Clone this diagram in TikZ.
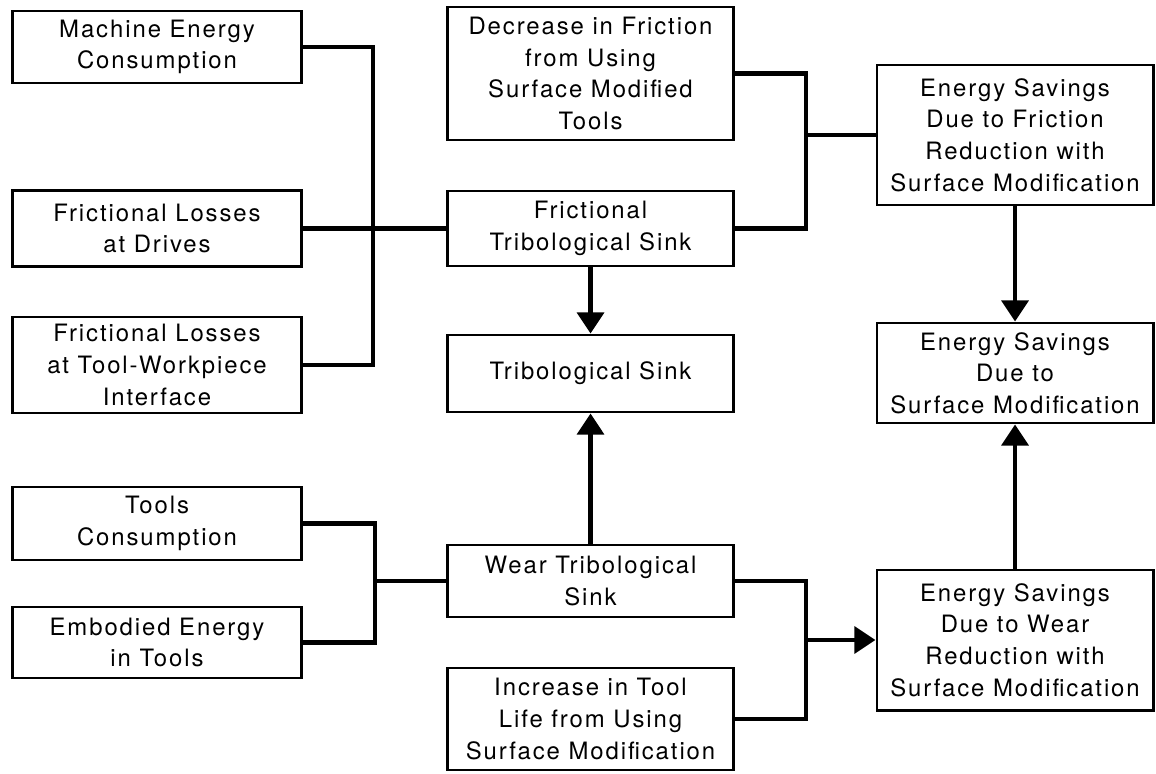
\documentclass[tikz,border=0pt]{standalone}
\usepackage{fontspec}
\setmainfont{TeX Gyre Heros}[LetterSpace=8]
\usepackage{tikz}
\usetikzlibrary{arrows.meta,calc}

\begin{document}
\begin{tikzpicture}[x=0.025cm, y=-0.025cm,
    box/.style={draw, line width=2.1pt, align=center, inner sep=2pt,
        font=\fontsize{17}{22.5}\selectfont},
    link/.style={line width=3.1pt},
    >={Triangle[length=15pt,width=19pt]}]

\useasboundingbox (0,0) rectangle (1156,774);

% Left column: energy inputs
\node[box, minimum width=7.2cm, minimum height=1.8cm] (mach) at (157,47) {Machine Energy\\Consumption};
\node[box, minimum width=7.2cm, minimum height=1.9cm] (drv) at (157,228.5) {Frictional Losses\\at Drives};
\node[box, minimum width=7.2cm, minimum height=2.4cm] (twp) at (157,365) {Frictional Losses\\at Tool-Workpiece\\Interface};
\node[box, minimum width=7.2cm, minimum height=1.825cm] (tcons) at (157,523.5) {Tools\\Consumption};
\node[box, minimum width=7.2cm, minimum height=1.775cm] (emb) at (157,642.5) {Embodied Energy\\in Tools};

% Middle column: sinks
\node[box, minimum width=7.125cm, minimum height=3.325cm] (dfric) at (590.5,73.5) {Decrease in Friction\\from Using\\Surface Modified\\Tools};
\node[box, minimum width=7.125cm, minimum height=1.875cm] (fsink) at (590.5,228.5) {Frictional\\Tribological Sink};
\node[box, minimum width=7.125cm, minimum height=1.925cm] (tsink) at (590.5,373.5) {Tribological Sink};
\node[box, minimum width=7.125cm, minimum height=1.8cm] (wsink) at (590.5,581) {Wear Tribological\\Sink};
\node[box, minimum width=7.125cm, minimum height=2.55cm] (life) at (590.5,719) {Increase in Tool\\Life from Using\\Surface Modification};

% Right column: savings
\node[box, minimum width=6.9cm, minimum height=3.5cm] (esfric) at (1015,135) {Energy Savings\\Due to Friction\\Reduction with\\Surface Modification};
\node[box, minimum width=6.9cm, minimum height=2.5cm] (essurf) at (1015,373) {Energy Savings\\Due to\\Surface Modification};
\node[box, minimum width=6.9cm, minimum height=3.5cm] (eswear) at (1015,640) {Energy Savings\\Due to Wear\\Reduction with\\Surface Modification};

% Junctions of the brackets
\coordinate (jf) at (373,228.5);
\coordinate (jw) at (375,581);
\coordinate (jr) at (806,135);
\coordinate (jt) at (806,640);

% Frictional branch
\draw[link] (mach.east) -| (jf) |- (twp.east);
\draw[link] (drv.east) -- (fsink.west);
\draw[link] (dfric.east) -| (jr) |- (fsink.east);
\draw[link] (jr) -- (esfric.west);

% Wear branch
\draw[link] (tcons.east) -| (jw) |- (emb.east);
\draw[link] (jw) -- (wsink.west);
\draw[link] (wsink.east) -| (jt) |- (life.east);
\draw[link, ->] (jt) -- (eswear.west);

% Arrows into the sinks and savings
\draw[link, ->] (fsink) -- (tsink);
\draw[link, ->] (wsink) -- (tsink);
\draw[link, ->] (esfric) -- (essurf);
\draw[link, ->] (eswear) -- (essurf);
\end{tikzpicture}
\end{document}
